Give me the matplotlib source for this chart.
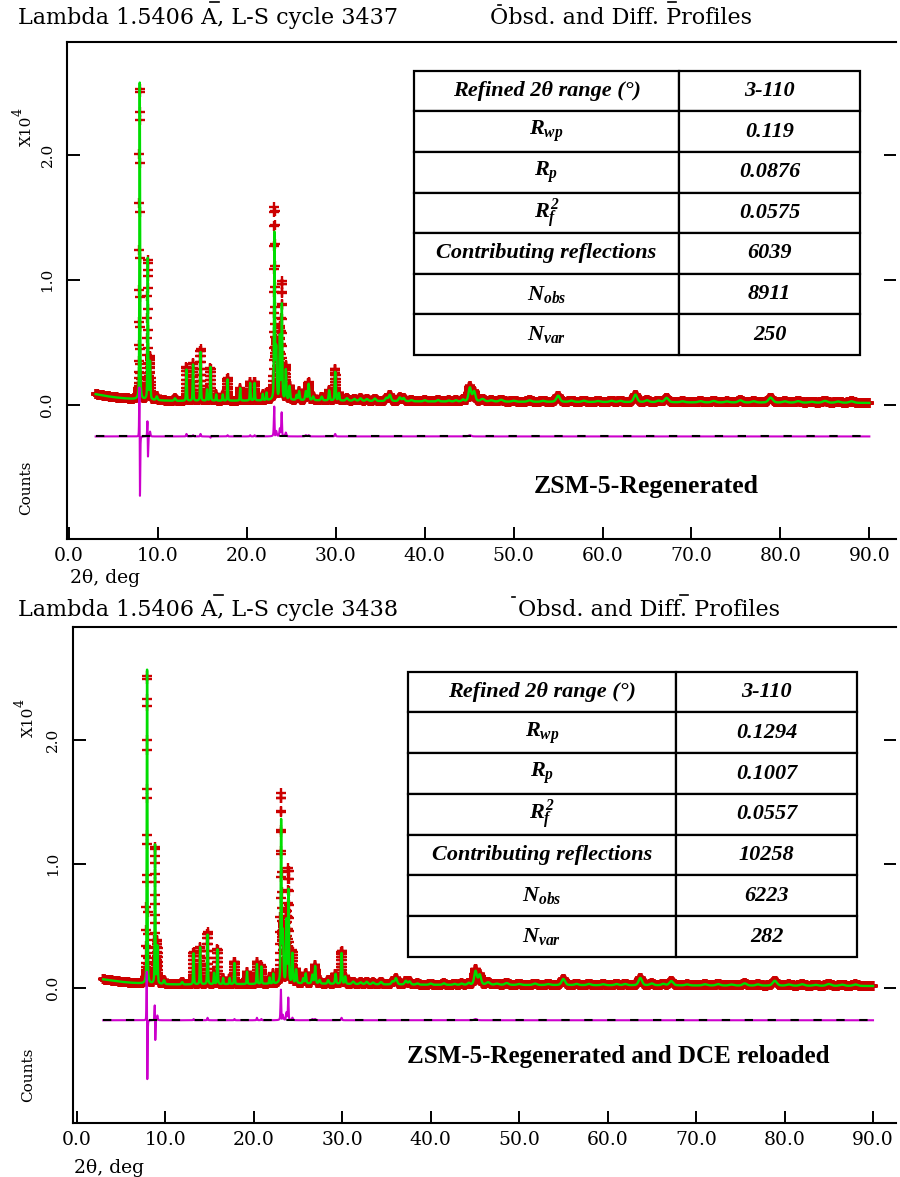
import numpy as np
import matplotlib
matplotlib.use("Agg")
import matplotlib.pyplot as plt
from matplotlib.font_manager import FontProperties
from matplotlib.lines import Line2D

plt.rcParams['mathtext.fontset'] = 'custom'
plt.rcParams['mathtext.rm'] = 'Liberation Serif:bold:italic'
plt.rcParams['mathtext.it'] = 'Liberation Serif:bold:italic'
plt.rcParams['mathtext.bf'] = 'Liberation Serif:bold:italic'

# ---------------------------------------------------------------- data
# 2-theta scan (deg), counts in units of 10^4
SCAN_START, SCAN_END, SCAN_STEP = 3.0, 90.0, 0.01

# ZSM-5 reflection groups: position (deg) and peak width (deg FWHM)
peak_pos = [7.955, 8.855, 9.11, 9.87, 11.92, 13.21, 13.95, 14.79, 15.52, 15.91,
            16.55, 17.29, 17.83, 19.25, 20.37, 20.87, 21.79, 22.21, 23.105, 23.30,
            23.71, 23.935, 24.38, 24.80, 25.60, 25.88, 26.64, 26.95, 27.45, 28.42,
            29.26, 29.935, 30.35, 31.25, 32.10, 32.78, 33.50, 34.40, 35.70, 36.08,
            37.20, 37.62, 38.50, 40.00, 41.50, 42.70, 43.50, 44.30, 45.08, 45.55,
            46.50, 47.50, 48.60, 50.00, 51.80, 53.30, 55.00, 56.50, 57.90, 59.50,
            61.00, 62.00, 63.70, 65.00, 66.30, 67.20, 69.00, 71.00, 72.50, 74.00,
            75.50, 77.00, 78.90, 80.50, 82.00, 83.50, 85.00, 86.50, 88.00]
peak_fwhm = [0.085, 0.085, 0.12, 0.20, 0.20, 0.10, 0.10, 0.10, 0.10, 0.10,
             0.10, 0.10, 0.10, 0.10, 0.10, 0.10, 0.10, 0.10, 0.11, 0.15,
             0.12, 0.11, 0.13, 0.15, 0.15, 0.15, 0.18, 0.15, 0.20, 0.20,
             0.15, 0.13, 0.15, 0.30, 0.30, 0.30, 0.30, 0.30, 0.30, 0.30,
             0.30, 0.30, 0.30, 0.30, 0.30, 0.30, 0.30, 0.30, 0.35, 0.35,
             0.50, 0.50, 0.50, 0.50, 0.50, 0.50, 0.45, 0.50, 0.50, 0.50,
             0.50, 0.50, 0.45, 0.50, 0.50, 0.50, 0.55, 0.55, 0.55, 0.55,
             0.55, 0.55, 0.55, 0.60, 0.60, 0.60, 0.60, 0.60, 0.60]
# observed peak offset from the calculated position (deg)
obs_shift = [-0.011, -0.008, 0, 0, 0, 0, 0, 0, 0, 0,
             0, 0, 0, 0, 0, 0, 0, 0, -0.005, 0,
             0, -0.005, 0, 0, 0, 0, 0, 0, 0, 0,
             0, 0, 0, 0, 0, 0, 0, 0, 0, 0,
             0, 0, 0, 0, 0, 0, 0, 0, 0, 0,
             0, 0, 0, 0, 0, 0, 0, 0, 0, 0,
             0, 0, 0, 0, 0, 0, 0, 0, 0, 0,
             0, 0, 0, 0, 0, 0, 0, 0, 0]

# ZSM-5-Regenerated: calculated and observed peak heights
regen_calc = [2.56, 1.14, 0.30, 0.03, 0.02, 0.25, 0.29, 0.39, 0.09, 0.27,
              0.05, 0.05, 0.17, 0.10, 0.14, 0.14, 0.05, 0.06, 1.33, 0.40,
              0.50, 0.76, 0.24, 0.11, 0.04, 0.07, 0.07, 0.13, 0.03, 0.03,
              0.08, 0.23, 0.06, 0.02, 0.015, 0.02, 0.015, 0.02, 0.025, 0.05,
              0.03, 0.025, 0.01, 0.01, 0.012, 0.008, 0.01, 0.015, 0.11, 0.08,
              0.02, 0.01, 0.015, 0.008, 0.012, 0.008, 0.05, 0.01, 0.01, 0.008,
              0.01, 0.01, 0.06, 0.015, 0.012, 0.035, 0.008, 0.01, 0.012, 0.008,
              0.018, 0.01, 0.04, 0.01, 0.012, 0.008, 0.015, 0.01, 0.012]
regen_obs = [2.50, 1.11, 0.34, 0.03, 0.02, 0.27, 0.30, 0.41, 0.09, 0.26,
             0.05, 0.05, 0.18, 0.10, 0.15, 0.15, 0.05, 0.06, 1.52, 0.44,
             0.56, 0.93, 0.27, 0.11, 0.04, 0.07, 0.08, 0.14, 0.03, 0.03,
             0.08, 0.25, 0.06, 0.02, 0.015, 0.02, 0.015, 0.02, 0.025, 0.05,
             0.03, 0.025, 0.01, 0.01, 0.012, 0.008, 0.01, 0.015, 0.12, 0.08,
             0.02, 0.01, 0.015, 0.008, 0.012, 0.008, 0.05, 0.01, 0.01, 0.008,
             0.01, 0.01, 0.06, 0.015, 0.012, 0.035, 0.008, 0.01, 0.012, 0.008,
             0.018, 0.01, 0.04, 0.01, 0.012, 0.008, 0.015, 0.01, 0.012]
regen_bg_pos = [3, 4, 5, 6, 7, 8, 10, 12, 15, 20, 25, 30, 35, 40, 50, 60, 70, 80, 90]
regen_bg_val = [0.088, 0.075, 0.064, 0.056, 0.050, 0.046, 0.038, 0.034, 0.034, 0.036,
                0.040, 0.036, 0.032, 0.030, 0.027, 0.025, 0.022, 0.020, 0.018]

# ZSM-5-Regenerated and DCE reloaded
dce_calc = [2.56, 1.13, 0.30, 0.03, 0.02, 0.25, 0.30, 0.40, 0.09, 0.28,
            0.05, 0.05, 0.17, 0.10, 0.16, 0.14, 0.05, 0.08, 1.31, 0.40,
            0.50, 0.75, 0.24, 0.11, 0.04, 0.08, 0.07, 0.14, 0.03, 0.03,
            0.08, 0.25, 0.06, 0.02, 0.015, 0.02, 0.015, 0.02, 0.025, 0.05,
            0.03, 0.025, 0.01, 0.01, 0.012, 0.008, 0.01, 0.015, 0.11, 0.08,
            0.02, 0.01, 0.015, 0.008, 0.012, 0.008, 0.05, 0.01, 0.01, 0.008,
            0.01, 0.01, 0.06, 0.015, 0.012, 0.035, 0.008, 0.01, 0.012, 0.008,
            0.018, 0.01, 0.04, 0.01, 0.012, 0.008, 0.015, 0.01, 0.012]
dce_obs = [2.50, 1.10, 0.34, 0.03, 0.02, 0.26, 0.30, 0.42, 0.09, 0.28,
           0.05, 0.05, 0.18, 0.10, 0.18, 0.15, 0.05, 0.08, 1.51, 0.44,
           0.56, 0.91, 0.26, 0.11, 0.04, 0.08, 0.08, 0.15, 0.03, 0.03,
           0.08, 0.27, 0.06, 0.02, 0.015, 0.02, 0.015, 0.02, 0.025, 0.05,
           0.03, 0.025, 0.01, 0.01, 0.012, 0.008, 0.01, 0.015, 0.12, 0.08,
           0.02, 0.01, 0.015, 0.008, 0.012, 0.008, 0.05, 0.01, 0.01, 0.008,
           0.01, 0.01, 0.06, 0.015, 0.012, 0.035, 0.008, 0.01, 0.012, 0.008,
           0.018, 0.01, 0.04, 0.01, 0.012, 0.008, 0.015, 0.01, 0.012]
dce_bg_pos = [3, 4, 5, 6, 7, 8, 10, 12, 15, 20, 25, 30, 35, 40, 50, 60, 70, 80, 90]
dce_bg_val = [0.070, 0.060, 0.050, 0.043, 0.038, 0.034, 0.030, 0.028, 0.030, 0.032,
              0.036, 0.032, 0.028, 0.026, 0.024, 0.022, 0.020, 0.018, 0.016]

# refinement statistics
table_labels = ['Refined 2θ range (°)', r'$R_{wp}$', r'$R_p$', r'$R_f^2$',
                'Contributing reflections', r'$N_{obs}$', r'$N_{var}$']
regen_stats = ['3-110', '0.119', '0.0876', '0.0575', '6039', '8911', '250']
dce_stats = ['3-110', '0.1294', '0.1007', '0.0557', '10258', '6223', '282']

x_ticks = [0, 10, 20, 30, 40, 50, 60, 70, 80, 90]
y_ticks = [0, 1, 2]

# ---------------------------------------------------------------- profiles
tt = np.arange(SCAN_START, SCAN_END + SCAN_STEP / 2, SCAN_STEP)


def pseudo_voigt(x, center, fwhm, eta=0.4):
    sigma = fwhm / 2.3548
    g = np.exp(-0.5 * ((x - center) / sigma) ** 2)
    l = 1.0 / (1.0 + (2.0 * (x - center) / fwhm) ** 2)
    return eta * l + (1 - eta) * g


def pattern(heights, shifts, bg_pos, bg_val):
    y = np.interp(tt, bg_pos, bg_val)
    for c, w, h, s in zip(peak_pos, peak_fwhm, heights, shifts):
        y = y + h * pseudo_voigt(tt, c + s, w)
    return y


zero_shift = [0.0] * len(peak_pos)
regen_y_calc = pattern(regen_calc, zero_shift, regen_bg_pos, regen_bg_val)
regen_y_obs = pattern(regen_obs, obs_shift, regen_bg_pos, regen_bg_val)
dce_y_calc = pattern(dce_calc, zero_shift, dce_bg_pos, dce_bg_val)
dce_y_obs = pattern(dce_obs, obs_shift, dce_bg_pos, dce_bg_val)

# ---------------------------------------------------------------- figure
W, H = 900, 1177
fig = plt.figure(figsize=(W / 100, H / 100), dpi=100)

PLOT_FONT = 'DejaVu Serif'
TICK_FONT = dict(family=PLOT_FONT, size=13.5)


def px_axes(left, top, right, bottom):
    return fig.add_axes([left / W, 1 - bottom / H, (right - left) / W, (bottom - top) / H])


def fig_text(x, y, s, **kw):
    fig.text(x / W, 1 - y / H, s, **kw)


def fig_dash(x0, x1, y):
    fig.add_artist(Line2D([x0 / W, x1 / W], [1 - y / H, 1 - y / H],
                          transform=fig.transFigure, color='black', lw=1.2))


def draw_panel(box, xlim, ylim, y_obs, y_calc, diff_base):
    ax = px_axes(*box)
    ax.plot(tt, y_obs, ls='none', marker='+', ms=7.5, mew=1.7, color='#cc0000', zorder=2)
    ax.plot(tt, y_calc, color='#00dd00', lw=1.7, zorder=3)
    ax.plot(tt, y_obs - y_calc + diff_base, color='#cc00cc', lw=1.5, zorder=4)
    ax.plot([tt[0], tt[-1]], [diff_base, diff_base], color='black', lw=1.5,
            dashes=(4, 7), zorder=5)
    ax.set_xlim(*xlim)
    ax.set_ylim(*ylim)
    ax.set_xticks(x_ticks, labels=[f'{v:.1f}' for v in x_ticks], **TICK_FONT)
    ax.set_yticks(y_ticks, labels=[f'{v:.1f}' for v in y_ticks], rotation=90,
                  va='center', family=PLOT_FONT, size=11)
    ax.tick_params(axis='x', direction='in', length=9, width=1.4, pad=6,
                   bottom=True, top=False)
    ax.tick_params(axis='y', direction='in', length=9, width=1.4, pad=9,
                   left=True, right=True)
    for side in ('left', 'bottom', 'top'):
        ax.spines[side].set_linewidth(1.5)
    ax.spines['right'].set_visible(False)
    return ax


def draw_table(box, stats, split):
    tax = px_axes(*box)
    tax.axis('off')
    rows = [[lab, val] for lab, val in zip(table_labels, stats)]
    tbl = tax.table(cellText=rows, colWidths=[split, 1 - split], cellLoc='center',
                    bbox=[0, 0, 1, 1])
    tbl.auto_set_font_size(False)
    fp = FontProperties(family='Liberation Serif', weight='bold', style='italic', size=16)
    for cell in tbl.get_celld().values():
        cell.set_linewidth(1.6)
        cell.set_edgecolor('black')
        cell.get_text().set_fontproperties(fp)


HEAD = dict(family=PLOT_FONT, size=16, va='center')
VERT = dict(family=PLOT_FONT, size=11, rotation=90, ha='center', va='center')

# top panel
draw_panel((67, 41.7, 896, 539), (-0.225, 93.0), (-1.07, 2.906),
           regen_y_obs, regen_y_calc, -0.25)
draw_table((414, 70.7, 860, 355), regen_stats, (679 - 414) / (860 - 414))
fig_text(646, 487, 'ZSM-5-Regenerated', family='Liberation Serif', weight='bold',
         size=18.5, ha='center', va='center')
fig_text(18, 18, 'Lambda 1.5406 A, L-S cycle 3437', **HEAD)
fig_text(490, 18, 'Obsd. and Diff. Profiles', **HEAD)
fig_dash(210, 219, 2)
fig_dash(498, 501, 5)
fig_dash(668, 676, 2)
fig_text(27, 131, 'X10', **VERT)
fig_text(18, 112, '4', family=PLOT_FONT, size=9, rotation=90, ha='center', va='center')
fig_text(26, 488, 'Counts', **VERT)
fig_text(70, 578, '2θ, deg', family=PLOT_FONT, size=13.5, va='center')

# bottom panel
draw_panel((72.7, 627, 896, 1122.7), (-0.452, 92.6), (-1.086, 2.911),
           dce_y_obs, dce_y_calc, -0.26)
draw_table((408, 671.7, 857, 957), dce_stats, (676 - 408) / (857 - 408))
fig_text(618, 1056, 'ZSM-5-Regenerated and DCE reloaded', family='Liberation Serif',
         weight='bold', size=18, ha='center', va='center')
fig_text(18, 610, 'Lambda 1.5406 A, L-S cycle 3438', **HEAD)
fig_text(518, 610, 'Obsd. and Diff. Profiles', **HEAD)
fig_dash(214, 223, 595)
fig_dash(512, 515, 597)
fig_dash(680, 688, 595)
fig_text(29, 722, 'X10', **VERT)
fig_text(20, 703, '4', family=PLOT_FONT, size=9, rotation=90, ha='center', va='center')
fig_text(28, 1075, 'Counts', **VERT)
fig_text(74, 1168, '2θ, deg', family=PLOT_FONT, size=13.5, va='center')

fig.savefig('out.png', dpi=100)
